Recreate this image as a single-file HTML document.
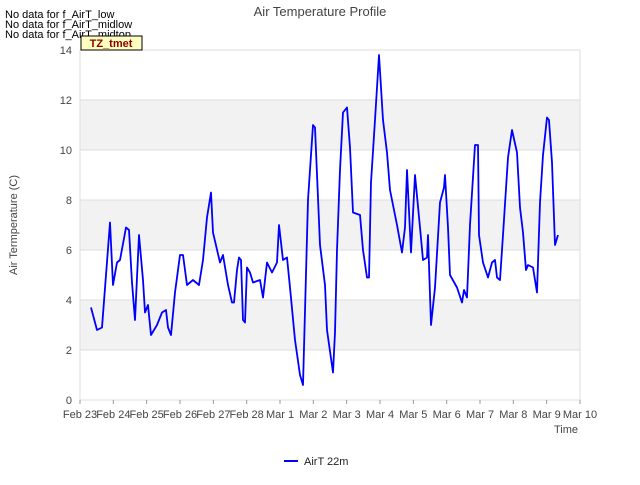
<!DOCTYPE html>
<html><head><meta charset="utf-8"><style>
body{margin:0;background:#fff;font-family:"Liberation Sans",sans-serif}
svg text{font-family:"Liberation Sans",sans-serif}
</style></head><body>
<svg id="chart" width="640" height="480">
<text x="320" y="16" text-anchor="middle" font-size="13" fill="#444">Air Temperature Profile</text>
<text x="5" y="18" font-size="11" fill="#000">No data for f_AirT_low</text>
<text x="5" y="28" font-size="11" fill="#000">No data for f_AirT_midlow</text>
<text x="5" y="38" font-size="11" fill="#000">No data for f_AirT_midtop</text>
<g id="plot"></g>
<g>
<rect x="81" y="36" width="61" height="14" fill="#ffffc0" stroke="#000" stroke-width="1"/>
<text x="111" y="47" text-anchor="middle" font-size="11" font-weight="bold" fill="#8b0000">TZ_tmet</text>
</g>
<text transform="translate(17,225) rotate(-90)" text-anchor="middle" font-size="11" fill="#444">Air Termperature (C)</text>
<text x="566" y="433" text-anchor="middle" font-size="11" fill="#444">Time</text>
<g>
<line x1="284" y1="461" x2="298" y2="461" stroke="#0000ff" stroke-width="2"/>
<text x="304" y="465" font-size="11" fill="#222">AirT 22m</text>
</g>
</svg>
<script>
const yTicks=[0,2,4,6,8,10,12,14];
const xTickLabels=["Feb 23","Feb 24","Feb 25","Feb 26","Feb 27","Feb 28","Mar 1","Mar 2","Mar 3","Mar 4","Mar 5","Mar 6","Mar 7","Mar 8","Mar 9","Mar 10"];
const dayOffsets=[0.33,0.51,0.66,0.90,0.99,1.11,1.20,1.38,1.47,1.56,1.65,1.77,1.89,1.95,2.04,2.13,2.31,2.46,2.58,2.64,2.73,2.85,3.00,3.09,3.21,3.39,3.57,3.69,3.81,3.93,3.99,4.20,4.29,4.44,4.56,4.62,4.71,4.77,4.83,4.89,4.95,5.01,5.10,5.19,5.40,5.49,5.61,5.76,5.91,5.97,6.09,6.21,6.30,6.45,6.60,6.69,6.84,6.99,7.05,7.20,7.35,7.41,7.59,7.65,7.71,7.80,7.89,8.01,8.10,8.19,8.40,8.49,8.61,8.67,8.73,8.85,8.97,9.09,9.21,9.30,9.51,9.66,9.75,9.81,9.93,10.05,10.20,10.29,10.41,10.44,10.53,10.65,10.80,10.92,10.95,11.04,11.10,11.31,11.46,11.52,11.61,11.70,11.85,11.94,11.97,12.09,12.24,12.36,12.45,12.51,12.60,12.69,12.84,12.96,13.11,13.20,13.29,13.38,13.44,13.59,13.71,13.80,13.89,14.01,14.07,14.16,14.25,14.34];
const airT22m=[3.7,2.8,2.9,7.1,4.6,5.5,5.6,6.9,6.8,4.7,3.2,6.6,4.8,3.5,3.8,2.6,3.0,3.5,3.6,2.9,2.6,4.3,5.8,5.8,4.6,4.8,4.6,5.6,7.3,8.3,6.7,5.5,5.8,4.6,3.9,3.9,5.2,5.7,5.6,3.2,3.1,5.3,5.1,4.7,4.8,4.1,5.5,5.1,5.5,7.0,5.6,5.7,4.5,2.4,1.0,0.6,8.0,11.0,10.9,6.2,4.6,2.8,1.1,2.7,6.0,9.2,11.5,11.7,10.1,7.5,7.4,6.0,4.9,4.9,8.7,11.2,13.8,11.2,9.9,8.4,7.0,5.9,6.9,9.2,5.9,9.0,6.9,5.6,5.7,6.6,3.0,4.5,7.9,8.5,9.0,6.9,5.0,4.5,3.9,4.4,4.1,7.0,10.2,10.2,6.6,5.5,4.9,5.5,5.6,4.9,4.8,6.6,9.7,10.8,9.9,7.7,6.7,5.2,5.4,5.3,4.3,7.9,9.8,11.3,11.2,9.5,6.2,6.6];
const X0=80,X1=580,Y0=400,Y1=50,YMAX=14,DAYS=15;
const xs=d=>X0+(X1-X0)*d/DAYS;
const ys=v=>Y0-(Y0-Y1)*v/YMAX;
const NS="http://www.w3.org/2000/svg";
const g=document.getElementById("plot");
function mk(t,a){const e=document.createElementNS(NS,t);for(const k in a)e.setAttribute(k,a[k]);g.appendChild(e);return e;}
const bg=mk("rect",{x:X0,y:Y1,width:X1-X0,height:Y0-Y1,fill:"#fff"});


for(let i=0;i<yTicks.length-1;i++){
  if(i%2===1){const b=mk("rect",{x:X0,y:ys(yTicks[i+1]),width:X1-X0,height:ys(yTicks[i])-ys(yTicks[i+1]),fill:"#f2f2f2"});
  
  }
}
yTicks.forEach(v=>{
  const l=mk("line",{x1:X0,x2:X1,y1:ys(v),y2:ys(v),stroke:"#dddddd","stroke-width":1});
  
  
  const t=mk("text",{x:X0-8,y:ys(v)+4,"text-anchor":"end","font-size":11,fill:"#444"});
  t.textContent=v;
  
  
});
const vl=mk("line",{x1:X0,x2:X0,y1:Y1,y2:Y0,stroke:"#dddddd"});


const vr=mk("line",{x1:X1,x2:X1,y1:Y1,y2:Y0,stroke:"#dddddd"});


xTickLabels.forEach((s,i)=>{
  const tk=mk("line",{x1:xs(i),x2:xs(i),y1:Y0,y2:Y0+4,stroke:"#999"});
  
  
  const t=mk("text",{x:xs(i),y:Y0+18,"text-anchor":"middle","font-size":11,fill:"#444"});
  t.textContent=s;
  
  
});
const pts=dayOffsets.map((d,i)=>xs(d).toFixed(1)+","+ys(airT22m[i]).toFixed(1)).join(" ");
const line=mk("polyline",{points:pts,fill:"none",stroke:"#0000ff","stroke-width":1.8,"stroke-linejoin":"round"});


</script>
</body></html>
